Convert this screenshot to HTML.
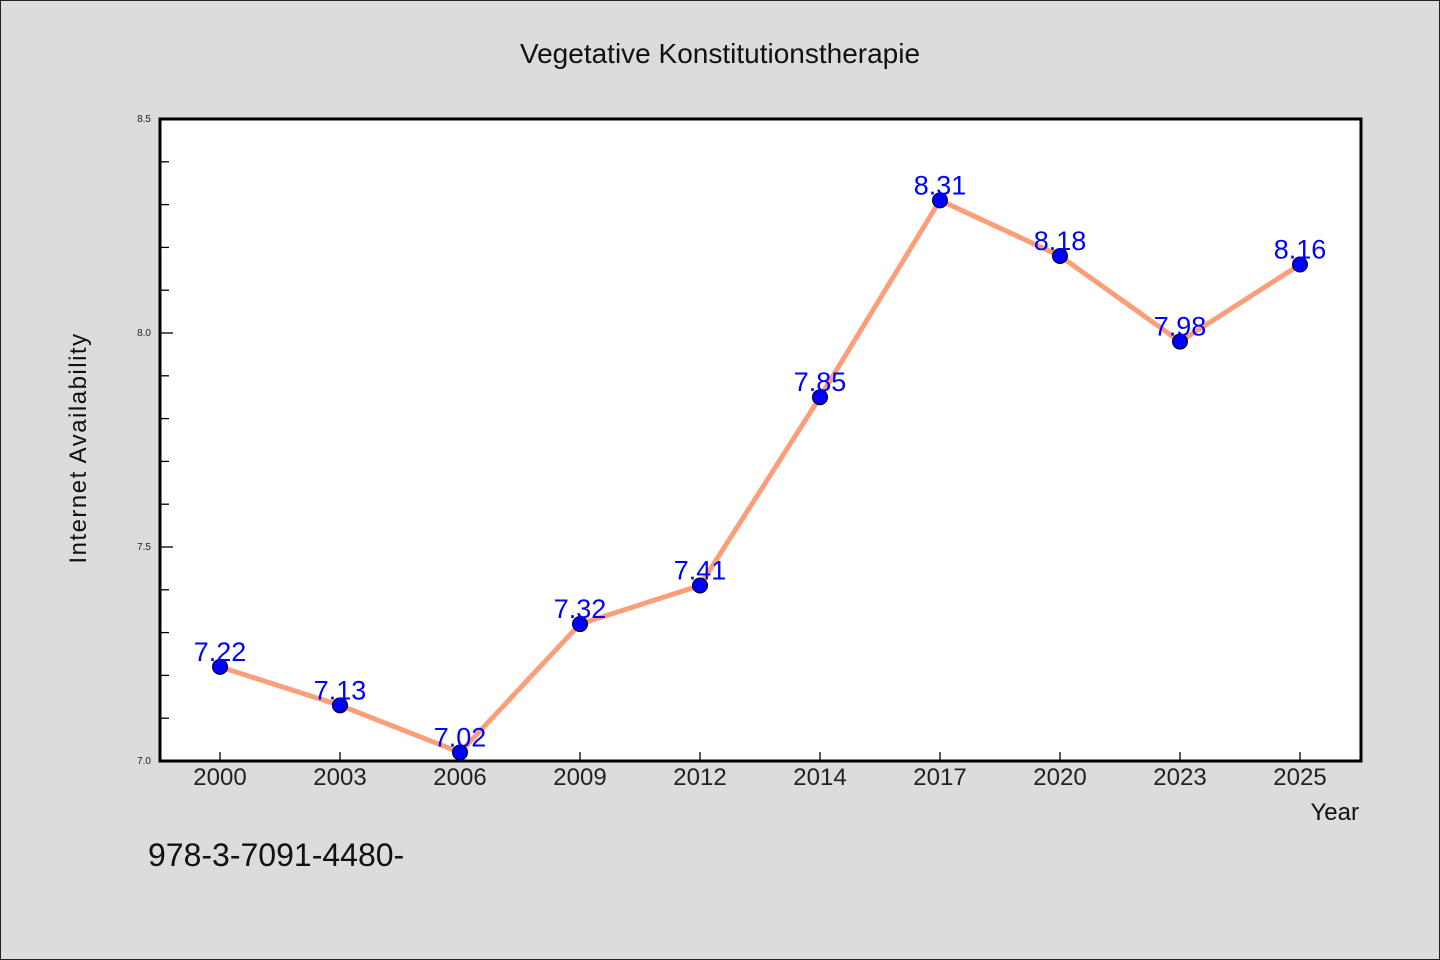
<!DOCTYPE html>
<html><head><meta charset="utf-8"><style>
html,body{margin:0;padding:0;background:#dcdcdc}
svg{display:block}
text{font-family:"WenQuanYi Zen Hei","Liberation Sans",sans-serif}
</style></head><body>
<svg id="chart" width="1440" height="960" xmlns="http://www.w3.org/2000/svg">
<rect x="0.5" y="0.5" width="1439" height="959" fill="#dcdcdc" stroke="#222"/>
<text x="720" y="63" font-size="28" text-anchor="middle" fill="#111">Vegetative Konstitutionstherapie</text>
<rect x="160" y="119" width="1201" height="642" fill="#fff"/>
<g id="ticks"></g>
<g id="series"></g>
<rect x="160" y="119" width="1201" height="642" fill="none" stroke="#000" stroke-width="3"/>
<text x="86" y="448" font-size="24" text-anchor="middle" fill="#111" transform="rotate(-90 86 448)" letter-spacing="1.5">Internet Availability</text>
<text x="1359" y="820" font-size="24" text-anchor="end" fill="#111">Year</text>
<text x="148" y="866" font-size="32" fill="#111">978-3-7091-4480-</text>
</svg>
<script>
const categories = ["2000","2003","2006","2009","2012","2014","2017","2020","2023","2025"];
const values = [7.22,7.13,7.02,7.32,7.41,7.85,8.31,8.18,7.98,8.16];
const yTicks = [7.0,7.5,8.0,8.5];
const yMin = 7.0, yMax = 8.5;
const NS="http://www.w3.org/2000/svg";
const L=160,R=1361,T=119,B=761;
const xS=i=>220+i*120;
const yS=v=>B-(v-yMin)/(yMax-yMin)*(B-T);
function mk(tag,attrs,parent){const e=document.createElementNS(NS,tag);for(const k in attrs)e.setAttribute(k,attrs[k]);parent.appendChild(e);return e;}
const tg=document.getElementById('ticks'), sg=document.getElementById('series');
for(let v=yMin; v<=yMax+1e-9; v+=0.1){
  const major=yTicks.some(t=>Math.abs(t-v)<1e-6);
  const l=mk('line',{x1:L,x2:L+(major?13:9),y1:yS(v),y2:yS(v),stroke:'#000','stroke-width':1.3},tg);
  
  
}
yTicks.forEach(t=>{
  const tx=mk('text',{x:151,y:yS(t)+3,'font-size':10,'text-anchor':'end',fill:'#222'},tg);
  tx.textContent=t.toFixed(1);
  
  
});
categories.forEach((c,i)=>{
  const l=mk('line',{x1:xS(i),x2:xS(i),y1:B,y2:B-9,stroke:'#000','stroke-width':1.3},tg);
  
  
  const tx=mk('text',{x:xS(i),y:785,'font-size':24,'text-anchor':'middle',fill:'#222'},tg);
  tx.textContent=c;
  
  
});
const line=mk('polyline',{points:values.map((v,i)=>xS(i)+','+yS(v)).join(' '),fill:'none',stroke:'#fa9f7a','stroke-width':5,'stroke-linejoin':'round'},sg);


values.forEach((v,i)=>{
  const c=mk('circle',{cx:xS(i),cy:yS(v),r:7.5,fill:'#0000ff',stroke:'#000','stroke-width':1},sg);
  
  
  const t=mk('text',{x:xS(i),y:yS(v)-6,'font-size':27,'text-anchor':'middle',fill:'#0000ff'},sg);
  t.textContent=v.toFixed(2);
  
  
});
</script>
</body></html>
